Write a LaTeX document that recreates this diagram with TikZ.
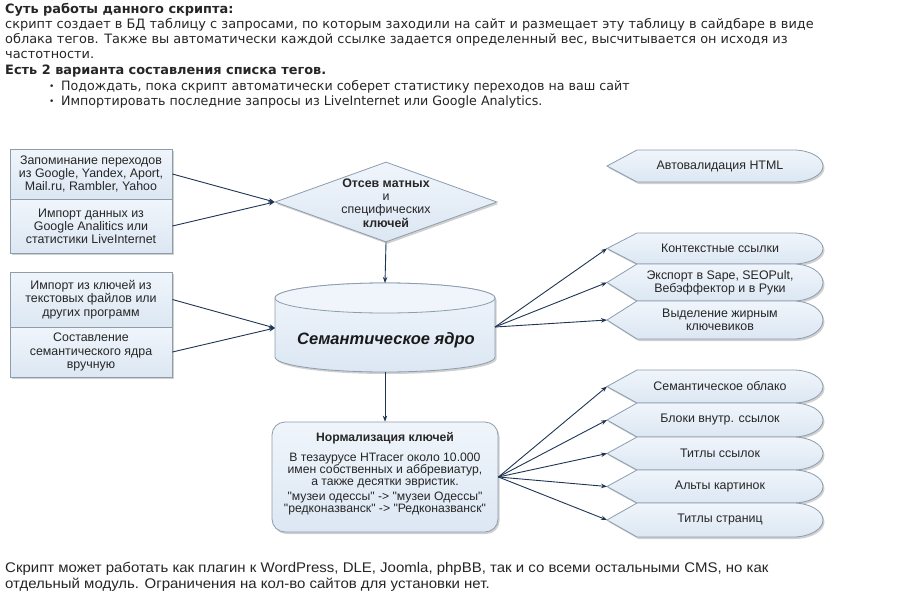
\documentclass[tikz,border=0pt]{standalone}
\usepackage{fontspec}
\usepackage{graphicx}
\setmainfont{DejaVu Sans}
\newfontfamily\diag{Liberation Sans}
\usetikzlibrary{shapes.geometric,arrows.meta,shadows}
\definecolor{bord}{HTML}{8C9DAE}
\definecolor{fillT}{HTML}{F0F5FB}
\definecolor{fillB}{HTML}{DCE7F3}
\definecolor{arrc}{HTML}{1F3553}
\definecolor{txt}{HTML}{262626}
\newcommand\dq{{\char34}}
\tikzset{
 shp/.style={draw=bord, line width=0.8pt, top color=fillT, bottom color=fillB,
   drop shadow={shadow xshift=1.5pt, shadow yshift=-2pt, opacity=0.3, fill=black!60}},
 arr/.style={draw=arrc, line width=0.9pt, -{Stealth[length=6pt,width=4.5pt]}},
 dl/.style={font=\diag\fontsize{12.4}{13.2}\selectfont, align=center, text=black!85, inner sep=0pt},
 tline/.style={anchor=base west, inner sep=0pt, text=txt, font=\fontsize{12.9}{15}\selectfont},
 btline/.style={anchor=base west, inner sep=0pt, text=txt, font=\diag\fontsize{14}{15}\selectfont},
}
\newcommand\DispShape[6]{%
 \path[shp] (607,#4) -- (637,#2) -- (793,#2) arc[start angle=-90,end angle=90,x radius=30,y radius=#5] -- (637,#3) -- cycle;
 \coordinate (#1) at (607,#4);
 \node[dl] (#1txt) at (720,#4) {#6};
}
\begin{document}
\begin{tikzpicture}[x=1pt,y=-1pt]
\useasboundingbox[fill=white] (0,0) rectangle (919,605);

% ---- top text
\node[tline,font=\bfseries\fontsize{12.9}{15}\selectfont] (t1) at (5,13) {Суть работы данного скрипта:};
\node[tline] (t2) at (5,28) {скрипт создает в БД таблицу с запросами, по которым заходили на сайт и размещает эту таблицу в сайдбаре в виде};
\node[tline] (t3) at (5,43) {облака тегов. Также вы автоматически каждой ссылке задается определенный вес, высчитывается он исходя из};
\node[tline] (t4) at (5,58) {частотности.};
\node[tline,font=\bfseries\fontsize{12.9}{15}\selectfont] (t5) at (5,74) {Есть 2 варианта составления списка тегов.};
\node[tline,font=\fontsize{9}{15}\selectfont] (b1) at (49,89) {•};
\node[tline] (t6) at (61,90) {\scalebox{0.98}[1]{Подождать, пока скрипт автоматически соберет статистику переходов на ваш сайт}};
\node[tline,font=\fontsize{9}{15}\selectfont] (b2) at (49,104) {•};
\node[tline] (t7) at (61,105) {\scalebox{0.98}[1]{Импортировать последние запросы из LiveInternet или Google Analytics.}};

% ---- bottom text
\node[btline] (f1) at (5,572) {\scalebox{1.07}[1]{Скрипт может работать как плагин к WordPress, DLE, Joomla, phpBB, так и со всеми остальными CMS, но как}};
\node[btline] (f2) at (5,588) {\scalebox{1.07}[1]{отдельный модуль. Ограничения на кол-во сайтов для установки нет.}};

% ---- left boxes
\node[shp, dl, minimum width=162pt, minimum height=50pt] (g1a) at (91,174) {Запоминание переходов\\из Google, Yandex, Aport,\\Mail.ru, Rambler, Yahoo};
\node[shp, dl, minimum width=162pt, minimum height=54pt] (g1b) at (91,226) {Импорт данных из\\Google Analitics или\\статистики LiveInternet};
\node[shp, dl, minimum width=162pt, minimum height=55pt] (g2a) at (91,299.5) {Импорт из ключей из\\текстовых файлов или\\других программ};
\node[shp, dl, minimum width=162pt, minimum height=50pt] (g2b) at (91,352) {Составление\\семантического ядра\\вручную};

% ---- diamond
\node[shp, diamond, minimum width=222pt, minimum height=80pt, inner sep=0pt] (dia) at (386,202) {};
\node[dl] (diatxt) at (386,203) {\textbf{Отсев матных}\\и\\специфических\\\textbf{ключей}};

% ---- cylinder
\path[shp] (275,298) -- (275,357) arc[start angle=180,end angle=0,x radius=110,y radius=15] -- (495,298) arc[start angle=0,end angle=-180,x radius=110,y radius=15] -- cycle;
\draw[draw=bord, line width=0.8pt, fill=fillT] (385,298) ellipse[x radius=110, y radius=15];
\node[font=\diag\bfseries\itshape\fontsize{16.5}{20}\selectfont, text=black!90] (cyltxt) at (386,340) {Семантическое ядро};
\coordinate (cylW) at (275,328);
\coordinate (cylE) at (495,327);
\coordinate (cylT) at (385,283);
\coordinate (cylB) at (385,372);

% ---- normalization
\node[shp, rounded corners=13pt, minimum width=226pt, minimum height=110pt] (norm) at (385,477) {};
\node[dl, font=\diag\fontsize{12.2}{12}\selectfont] (normtxt) at (385,474) {\textbf{Нормализация ключей}\\[8pt]В тезаурусе HTracer около 10.000\\имен собственных и аббревиатур,\\а также десятки эвристик.\\[3pt]\dq музеи одессы\dq{} -> \dq музеи Одессы\dq\\\dq редконазванск\dq{} -> \dq Редконазванск\dq};

% ---- right display shapes
\DispShape{html}{150}{182}{166}{16}{Автовалидация HTML}
\DispShape{ctx}{233}{264}{248.5}{15.5}{Контекстные ссылки}
\DispShape{exp}{264}{301}{282.5}{18.5}{Экспорт в Sape, SEOPult,\\Вебэффектор и в Руки}
\DispShape{bld}{301}{339}{320}{19}{Выделение жирным\\ключевиков}
\DispShape{sem}{370}{403}{386.5}{16.5}{Семантическое облако}
\DispShape{blk}{403}{437}{420}{17}{Блоки внутр. ссылок}
\DispShape{tls}{437}{470}{453.5}{16.5}{Титлы ссылок}
\DispShape{alt}{470}{503}{486.5}{16.5}{Альты картинок}
\DispShape{tpg}{503}{537}{520}{17}{Титлы страниц}

% ---- connectors
\draw[arr] (g1a.east) -- (dia.west);
\draw[arr] (g1b.east) -- (dia.west);
\draw[arr] (g2a.east) -- (cylW);
\draw[arr] (g2b.east) -- (cylW);
\draw[arr] (dia.south) -- (cylT);
\draw[arr] (cylB) -- (norm.north);
\foreach \t in {ctx,exp,bld} \draw[arr] (cylE) -- (\t);
\foreach \t in {sem,blk,tls,alt,tpg} \draw[arr] (norm.east) -- (\t);
\end{tikzpicture}
\end{document}
